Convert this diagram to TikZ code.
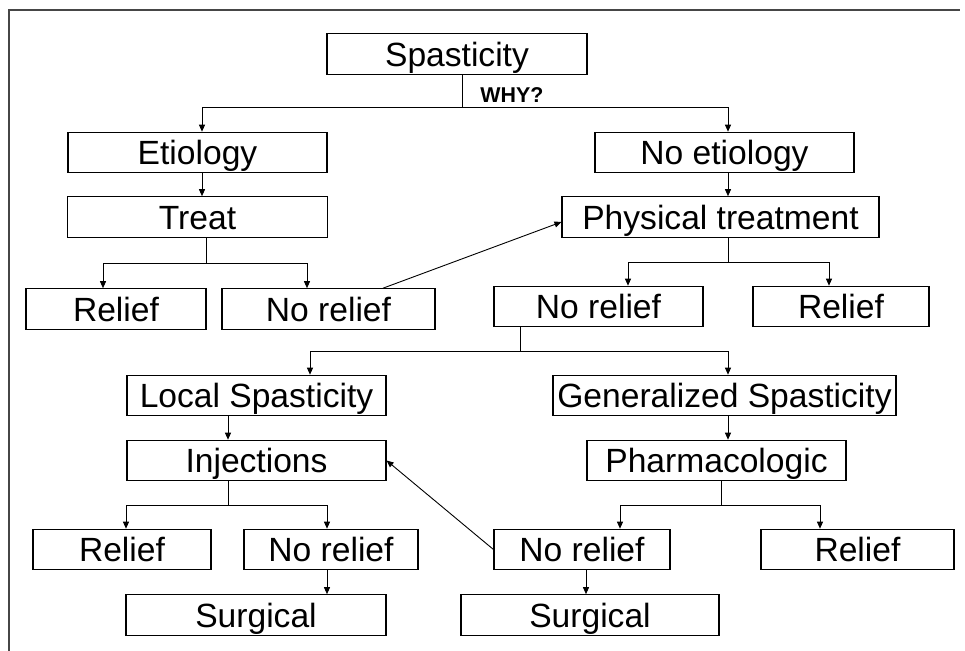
\documentclass[tikz,border=0pt]{standalone}
\usepackage{fontspec}
\setmainfont{Liberation Sans}
\usepackage{tikz}
\usetikzlibrary{arrows.meta}
\usepackage{xcolor}
\definecolor{framegray}{RGB}{70, 70, 70}

\begin{document}
\begin{tikzpicture}[x=0.5pt, y=-0.5pt,
    box/.style={draw, rectangle, line width=0.55pt, inner sep=0pt, text height=16.25pt, text depth=4pt, font=\fontsize{16.8}{20}\selectfont},
    arr/.style={-{Triangle[length=3.5pt, width=3pt]}, line width=0.45pt},
    stem/.style={line width=0.45pt}]
    \useasboundingbox (0,0) rectangle (965,651);
    \draw[framegray, line width=0.8pt] (9,651) -- (9,10) -- (960,10);

    \node[box, minimum width=130pt] (spas) at (457,54) {Spasticity};
    \node[font=\bfseries\fontsize{10.7}{12}\selectfont, anchor=base west, inner sep=0pt] (why) at (480,103) {WHY?};
    \node[box, minimum width=129.5pt] (etio) at (197.5,152.5) {Etiology};
    \node[box, minimum width=129.5pt] (noetio) at (724.5,152.5) {No etiology};
    \node[box, minimum width=130pt] (treat) at (197.5,217) {Treat};
    \node[box, minimum width=158.5pt] (phys) at (720.5,217) {Physical treatment};
    \node[box, minimum width=90pt] (rel1) at (116,309) {Relief};
    \node[box, minimum width=106.5pt] (norel1) at (328.5,309) {No relief};
    \node[box, minimum width=104.5pt] (norel2) at (598.5,306.5) {No relief};
    \node[box, minimum width=88pt] (rel2) at (841,306.5) {Relief};
    \node[box, minimum width=129.5pt] (local) at (256.5,395.5) {Local Spasticity};
    \node[box, minimum width=171.5pt] (gen) at (724.5,395.5) {Generalized Spasticity};
    \node[box, minimum width=129.5pt] (inj) at (256.5,460.5) {Injections};
    \node[box, minimum width=129.5pt] (pharm) at (716.5,460.5) {Pharmacologic};
    \node[box, minimum width=89pt] (rel3) at (122,549.5) {Relief};
    \node[box, minimum width=87pt] (norel3) at (331,549.5) {No relief};
    \node[box, minimum width=88pt] (norel4) at (582,549.5) {No relief};
    \node[box, minimum width=96.5pt] (rel4) at (857.5,549.5) {Relief};
    \node[box, minimum width=130pt] (surg1) at (256,615) {Surgical};
    \node[box, minimum width=129pt] (surg2) at (590,615) {Surgical};

    \coordinate (fk1) at (462,107);
    \coordinate (fk2) at (206,263);
    \coordinate (fk3) at (728,262);
    \coordinate (fk4) at (520,351);
    \coordinate (fk5) at (228,505);
    \coordinate (fk6) at (721,505);

    \draw[stem] (spas.south -| fk1) -- (fk1);
    \draw[arr] (fk1) -| ([xshift=2.25pt]etio.north);
    \draw[arr] (fk1) -| ([xshift=1.75pt]noetio.north);
    \draw[arr] ([xshift=2.25pt]etio.south) -- ([xshift=2.25pt]treat.north);
    \draw[arr] (noetio.south -| fk3) -- (phys.north -| fk3);

    \draw[stem] (treat.south -| fk2) -- (fk2);
    \draw[arr] (fk2) -| ([xshift=-6.5pt]rel1.north);
    \draw[arr] (fk2) -| ([xshift=-10.75pt]norel1.north);
    \draw[arr] ([xshift=27.25pt]norel1.north) -- ([yshift=-2.5pt]phys.west);

    \draw[stem] (phys.south -| fk3) -- (fk3);
    \draw[arr] (fk3) -| ([xshift=14.75pt]norel2.north);
    \draw[arr] (fk3) -| ([xshift=-6pt]rel2.north);

    \draw[stem] (norel2.south -| fk4) -- (fk4);
    \draw[arr] (fk4) -| ([xshift=26.75pt]local.north);
    \draw[arr] (fk4) -| ([xshift=1.75pt]gen.north);
    \draw[arr] (local.south -| fk5) -- (inj.north -| fk5);
    \draw[arr] (gen.south -| fk3) -- (pharm.north -| fk3);

    \draw[stem] (inj.south -| fk5) -- (fk5);
    \draw[arr] (fk5) -| ([xshift=2pt]rel3.north);
    \draw[arr] (fk5) -| ([xshift=-2pt]norel3.north);
    \draw[arr] ([xshift=-2pt]norel3.south) -- ([xshift=35.5pt]surg1.north);

    \draw[stem] (pharm.south -| fk6) -- (fk6);
    \draw[arr] (fk6) -| ([xshift=19pt]norel4.north);
    \draw[arr] (fk6) -| ([xshift=-18.75pt]rel4.north);
    \draw[arr] ([xshift=2pt]norel4.south) -- ([xshift=-2pt]surg2.north);
    \draw[arr] (norel4.west) -- (inj.east);
\end{tikzpicture}
\end{document}
